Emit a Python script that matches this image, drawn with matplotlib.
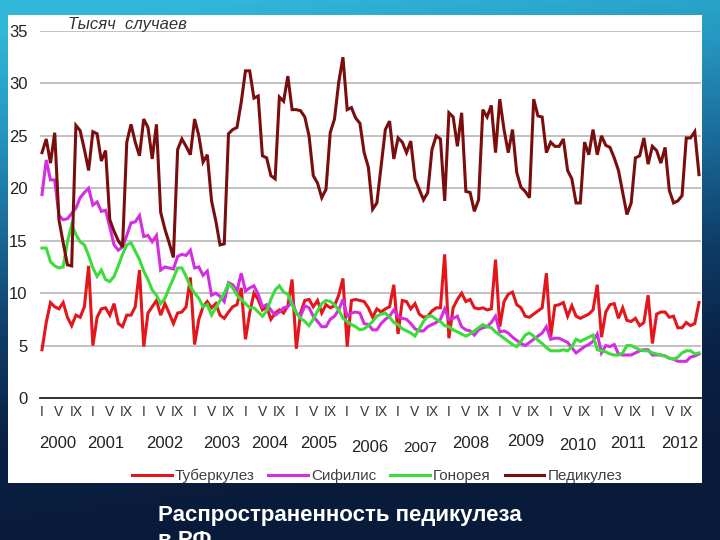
import numpy as np
import matplotlib
matplotlib.use("Agg")
import matplotlib.pyplot as plt
from matplotlib.patches import Rectangle
from matplotlib.colors import LinearSegmentedColormap

plt.rcParams['font.family'] = ['Liberation Sans', 'DejaVu Sans']

# ---------------- data (thousand cases per month, Jan 2000 .. Dec 2012) ----------------
years = [str(y) for y in range(2000, 2013)]
month_labels = ["I", "V", "IX"]
series_names = ["Туберкулез", "Сифилис", "Гонорея", "Педикулез"]

tuberculosis = [
    4.6, 7.2, 9.1, 8.7, 8.5, 9.1, 7.7, 6.9, 7.9, 7.7, 8.7, 12.6,
    5.0, 7.7, 8.5, 8.6, 7.9, 9.0, 7.1, 6.8, 7.9, 7.9, 8.7, 12.2,
    4.9, 8.1, 8.7, 9.3, 7.9, 9.0, 8.1, 7.1, 8.1, 8.2, 8.7, 11.5,
    5.1, 7.5, 8.7, 9.2, 8.6, 9.0, 7.9, 7.6, 8.2, 8.7, 8.9, 10.5,
    5.6, 8.1, 10.0, 9.4, 8.4, 8.7, 7.5, 8.1, 8.4, 8.1, 8.8, 11.3,
    4.7, 8.1, 9.3, 9.4, 8.7, 9.3, 8.1, 8.9, 8.6, 8.8, 9.8, 11.4,
    4.9, 9.3, 9.4, 9.3, 9.2, 8.6, 7.7, 8.5, 8.2, 8.5, 8.7, 10.8,
    6.1, 9.3, 9.2, 8.5, 9.0, 8.0, 7.7, 7.8, 8.3, 8.6, 8.6, 13.7,
    5.7, 8.6, 9.4, 10.0, 9.2, 9.4, 8.6, 8.5, 8.6, 8.4, 8.5, 13.2,
    6.8, 9.2, 9.9, 10.1, 8.9, 8.6, 7.8, 7.7, 8.0, 8.3, 8.6, 11.9,
    5.8, 8.8, 8.9, 9.1, 7.8, 8.8, 7.8, 7.6, 7.8, 8.0, 8.4, 10.8,
    5.8, 8.2, 8.9, 9.0, 7.6, 8.6, 7.4, 7.3, 7.6, 6.9, 7.2, 9.8,
    5.2, 8.0, 8.2, 8.2, 7.7, 7.8, 6.7, 6.7, 7.2, 6.9, 7.1, 9.1,
]

syphilis = [
    19.4, 22.7, 20.8, 20.8, 17.4, 17.0, 17.1, 17.6, 18.1, 19.1, 19.6, 20.0,
    18.4, 18.7, 17.8, 17.9, 16.3, 14.6, 14.1, 14.4, 15.5, 16.7, 16.8, 17.4,
    15.4, 15.5, 14.9, 15.5, 12.2, 12.5, 12.4, 12.3, 13.5, 13.7, 13.6, 14.1,
    12.4, 12.5, 11.7, 12.1, 9.8, 10.0, 9.7, 9.2, 11.0, 10.8, 10.2, 11.9,
    10.2, 10.5, 10.7, 9.9, 8.7, 8.9, 8.4, 7.9, 8.2, 8.6, 8.7, 9.2,
    8.1, 7.8, 8.8, 8.6, 7.8, 7.3, 6.8, 6.8, 7.5, 7.8, 8.4, 9.4,
    7.8, 8.1, 8.2, 8.1, 7.1, 7.0, 6.5, 6.5, 7.1, 7.5, 7.8, 8.4,
    7.8, 7.6, 7.5, 7.1, 6.6, 6.4, 6.4, 6.8, 7.0, 7.2, 7.5, 8.5,
    7.5, 7.6, 7.8, 6.8, 6.5, 6.4, 6.0, 6.5, 6.7, 6.8, 7.2, 7.8,
    6.3, 6.4, 6.2, 5.8, 5.5, 5.2, 5.0, 5.3, 5.6, 5.9, 6.2, 6.8,
    5.6, 5.7, 5.7, 5.5, 5.3, 4.8, 4.3, 4.6, 4.9, 5.1, 5.4, 6.1,
    4.3, 5.0, 4.9, 5.1, 4.2, 4.1, 4.1, 4.1, 4.3, 4.5, 4.6, 4.6,
    4.1, 4.1, 4.1, 4.0, 3.8, 3.7, 3.5, 3.5, 3.5, 3.9, 4.0, 4.2,
]

gonorrhea = [
    14.3, 14.3, 13.0, 12.6, 12.4, 12.5, 14.9, 16.5, 15.6, 14.9, 14.6, 13.6,
    12.4, 11.6, 12.2, 11.3, 11.1, 11.6, 12.6, 13.7, 14.6, 14.8, 14.0, 13.2,
    12.1, 11.3, 10.3, 9.8, 9.0, 9.5, 10.5, 11.4, 12.4, 12.4, 11.6, 10.6,
    10.0, 9.5, 8.7, 8.9, 7.9, 8.6, 9.3, 10.0, 10.9, 10.5, 9.8, 9.4,
    9.0, 8.6, 8.6, 8.2, 7.8, 8.3, 9.4, 10.3, 10.7, 10.1, 9.9, 8.9,
    8.1, 7.6, 7.3, 6.9, 7.5, 8.3, 9.0, 9.3, 9.2, 8.9, 8.4, 7.6,
    7.3, 7.0, 6.8, 6.5, 6.6, 6.9, 7.3, 7.8, 8.0, 8.1, 7.7, 7.2,
    7.0, 6.6, 6.4, 6.2, 5.9, 6.6, 7.3, 7.8, 7.8, 7.5, 7.3, 6.9,
    6.8, 6.5, 6.3, 6.1, 5.9, 6.1, 6.4, 6.7, 7.0, 6.8, 6.7, 6.3,
    6.0, 5.7, 5.4, 5.1, 4.9, 5.4, 6.0, 6.2, 5.9, 5.5, 5.2, 4.8,
    4.5, 4.5, 4.5, 4.6, 4.5, 4.9, 5.6, 5.4, 5.6, 5.8, 6.0, 4.6,
    4.5, 4.4, 4.2, 4.1, 4.1, 4.3, 5.0, 5.0, 4.8, 4.6, 4.5, 4.5,
    4.3, 4.2, 4.1, 4.0, 3.8, 3.7, 3.9, 4.3, 4.5, 4.5, 4.2, 4.3,
]

pediculosis = [
    23.4, 24.7, 22.4, 25.3, 17.0, 14.8, 12.7, 12.6, 26.0, 25.5, 23.7, 21.7,
    25.4, 25.2, 22.6, 23.6, 17.0, 15.9, 15.0, 14.4, 24.4, 26.1, 24.4, 23.1,
    26.6, 25.8, 22.8, 26.1, 17.7, 16.1, 14.8, 13.4, 23.7, 24.7, 24.0, 23.2,
    26.6, 25.0, 22.5, 23.2, 18.8, 16.9, 14.6, 14.7, 25.2, 25.6, 25.8, 28.2,
    31.2, 31.2, 28.6, 28.8, 23.1, 22.9, 21.2, 20.9, 28.7, 28.3, 30.7, 27.5,
    27.5, 27.4, 26.8, 25.0, 21.2, 20.5, 19.1, 19.9, 25.3, 26.6, 30.1, 32.5,
    27.5, 27.7, 26.7, 26.2, 23.4, 22.0, 18.0, 18.6, 22.1, 25.6, 26.4, 22.8,
    24.8, 24.4, 23.4, 24.5, 20.9, 19.9, 18.9, 19.6, 23.7, 25.0, 24.7, 18.8,
    27.2, 26.8, 24.0, 27.2, 19.7, 19.6, 17.8, 18.9, 27.5, 26.8, 27.9, 23.4,
    28.5, 25.6, 23.4, 25.6, 21.5, 20.1, 19.7, 19.1, 28.5, 26.9, 26.8, 23.4,
    24.4, 24.0, 24.0, 24.7, 21.7, 20.9, 18.6, 18.6, 24.4, 23.2, 25.6, 23.2,
    25.0, 24.1, 23.9, 22.9, 21.7, 19.6, 17.5, 18.6, 22.9, 23.1, 24.8, 22.3,
    24.0, 23.6, 22.4, 23.9, 19.8, 18.6, 18.8, 19.3, 24.8, 24.8, 25.4, 21.3,
]

y_ticks = [0, 5, 10, 15, 20, 25, 30, 35]

# ---------------- layout / style ----------------
W, H = 720, 540
colors = ["#E3161C", "#D22FE0", "#3CDC3C", "#7A0E0E"]
year_label_x = [3.8, 15.0, 29.0, 42.4, 53.8, 65.3, 77.4, 89.2, 101.2, 114.1, 126.4, 138.2, 150.5]
year_label_y = [444, 444, 444, 444, 444, 444, 447, 448, 444, 441, 445, 444, 444]

fig = plt.figure(figsize=(W / 100, H / 100), dpi=100)

# background gradient
bg = fig.add_axes([0, 0, 1, 1], zorder=-10)
yy, xx = np.mgrid[0:1:270j, 0:1:360j]
t = np.clip(yy * 1.05 + xx * 0.18 - 0.05, 0, 1)
cmap = LinearSegmentedColormap.from_list(
    "bg", ["#31B8D8", "#2697C2", "#1A6A98", "#0F3D68", "#0A2246", "#091B3A"])
bg.imshow(t, cmap=cmap, aspect="auto", extent=[0, 1, 0, 1], origin="upper")
bg.set_axis_off()

# white panel
fig.patches.append(Rectangle((8 / W, 1 - 483 / H), (702 - 8) / W, (483 - 15) / H,
                             transform=fig.transFigure, facecolor="white",
                             edgecolor="none", zorder=-5))

# main axes
ax_left, ax_right = 40, 701
ax_top, ax_bottom = 31, 398
ax = fig.add_axes([ax_left / W, 1 - ax_bottom / H, (ax_right - ax_left) / W,
                   (ax_bottom - ax_top) / H])
ax.set_facecolor("none")

n = len(pediculosis)
x = np.arange(n)
px_per_month = (699 - 42) / (n - 1)
ax.set_xlim(-(42 - ax_left) / px_per_month, (n - 1) + (ax_right - 699) / px_per_month)
ax.set_ylim(0, 35)

for vals, c, name in zip([tuberculosis, syphilis, gonorrhea, pediculosis], colors, series_names):
    ax.plot(x, vals, color=c, lw=2.2, label=name, solid_joinstyle="miter", zorder=3)

ax.set_yticks(y_ticks)
ax.set_yticklabels([str(v) for v in y_ticks], fontsize=12, color="#222222")
ax.yaxis.grid(True, color="#BDBDBD", lw=1.3, zorder=0)
ax.set_axisbelow(True)

xt, xl = [], []
for k in range(len(years)):
    for m, lab in zip([0, 4, 8], month_labels):
        xt.append(12 * k + m)
        xl.append(lab)
ax.set_xticks(xt)
ax.set_xticklabels(xl, fontsize=10, color="#333333")
ax.tick_params(axis="both", length=0)
ax.tick_params(axis="y", pad=9)
ax.tick_params(axis="x", pad=5)

for s in ["top", "right", "left"]:
    ax.spines[s].set_visible(False)
ax.spines["bottom"].set_color("#222222")
ax.spines["bottom"].set_linewidth(1.3)

# year labels
for yr, xpos, ypix in zip(years, year_label_x, year_label_y):
    xf = (ax_left + (xpos - ax.get_xlim()[0]) * px_per_month) / W
    fig.text(xf, 1 - ypix / H, yr, fontsize=12 if yr != "2007" else 11,
             ha="center", va="center", color="#222222")

# units label
fig.text(68 / W, 1 - 24 / H, "Тысяч  случаев", fontsize=12, style="italic",
         ha="left", va="center", color="#333333")

# legend
leg = fig.legend(loc="center", bbox_to_anchor=(377 / W, 1 - 476 / H), ncol=4,
                 frameon=False, fontsize=11, handlelength=2.6, handletextpad=0.2,
                 columnspacing=0.9, borderaxespad=0)
for txt in leg.get_texts():
    txt.set_color("#404040")

# caption
fig.text(158 / W, 1 - 505 / H, "Распространенность педикулеза\nв РФ", fontsize=16,
         fontweight="bold", color="white", ha="left", va="top", linespacing=1.25)

fig.savefig("out.png", dpi=100)
